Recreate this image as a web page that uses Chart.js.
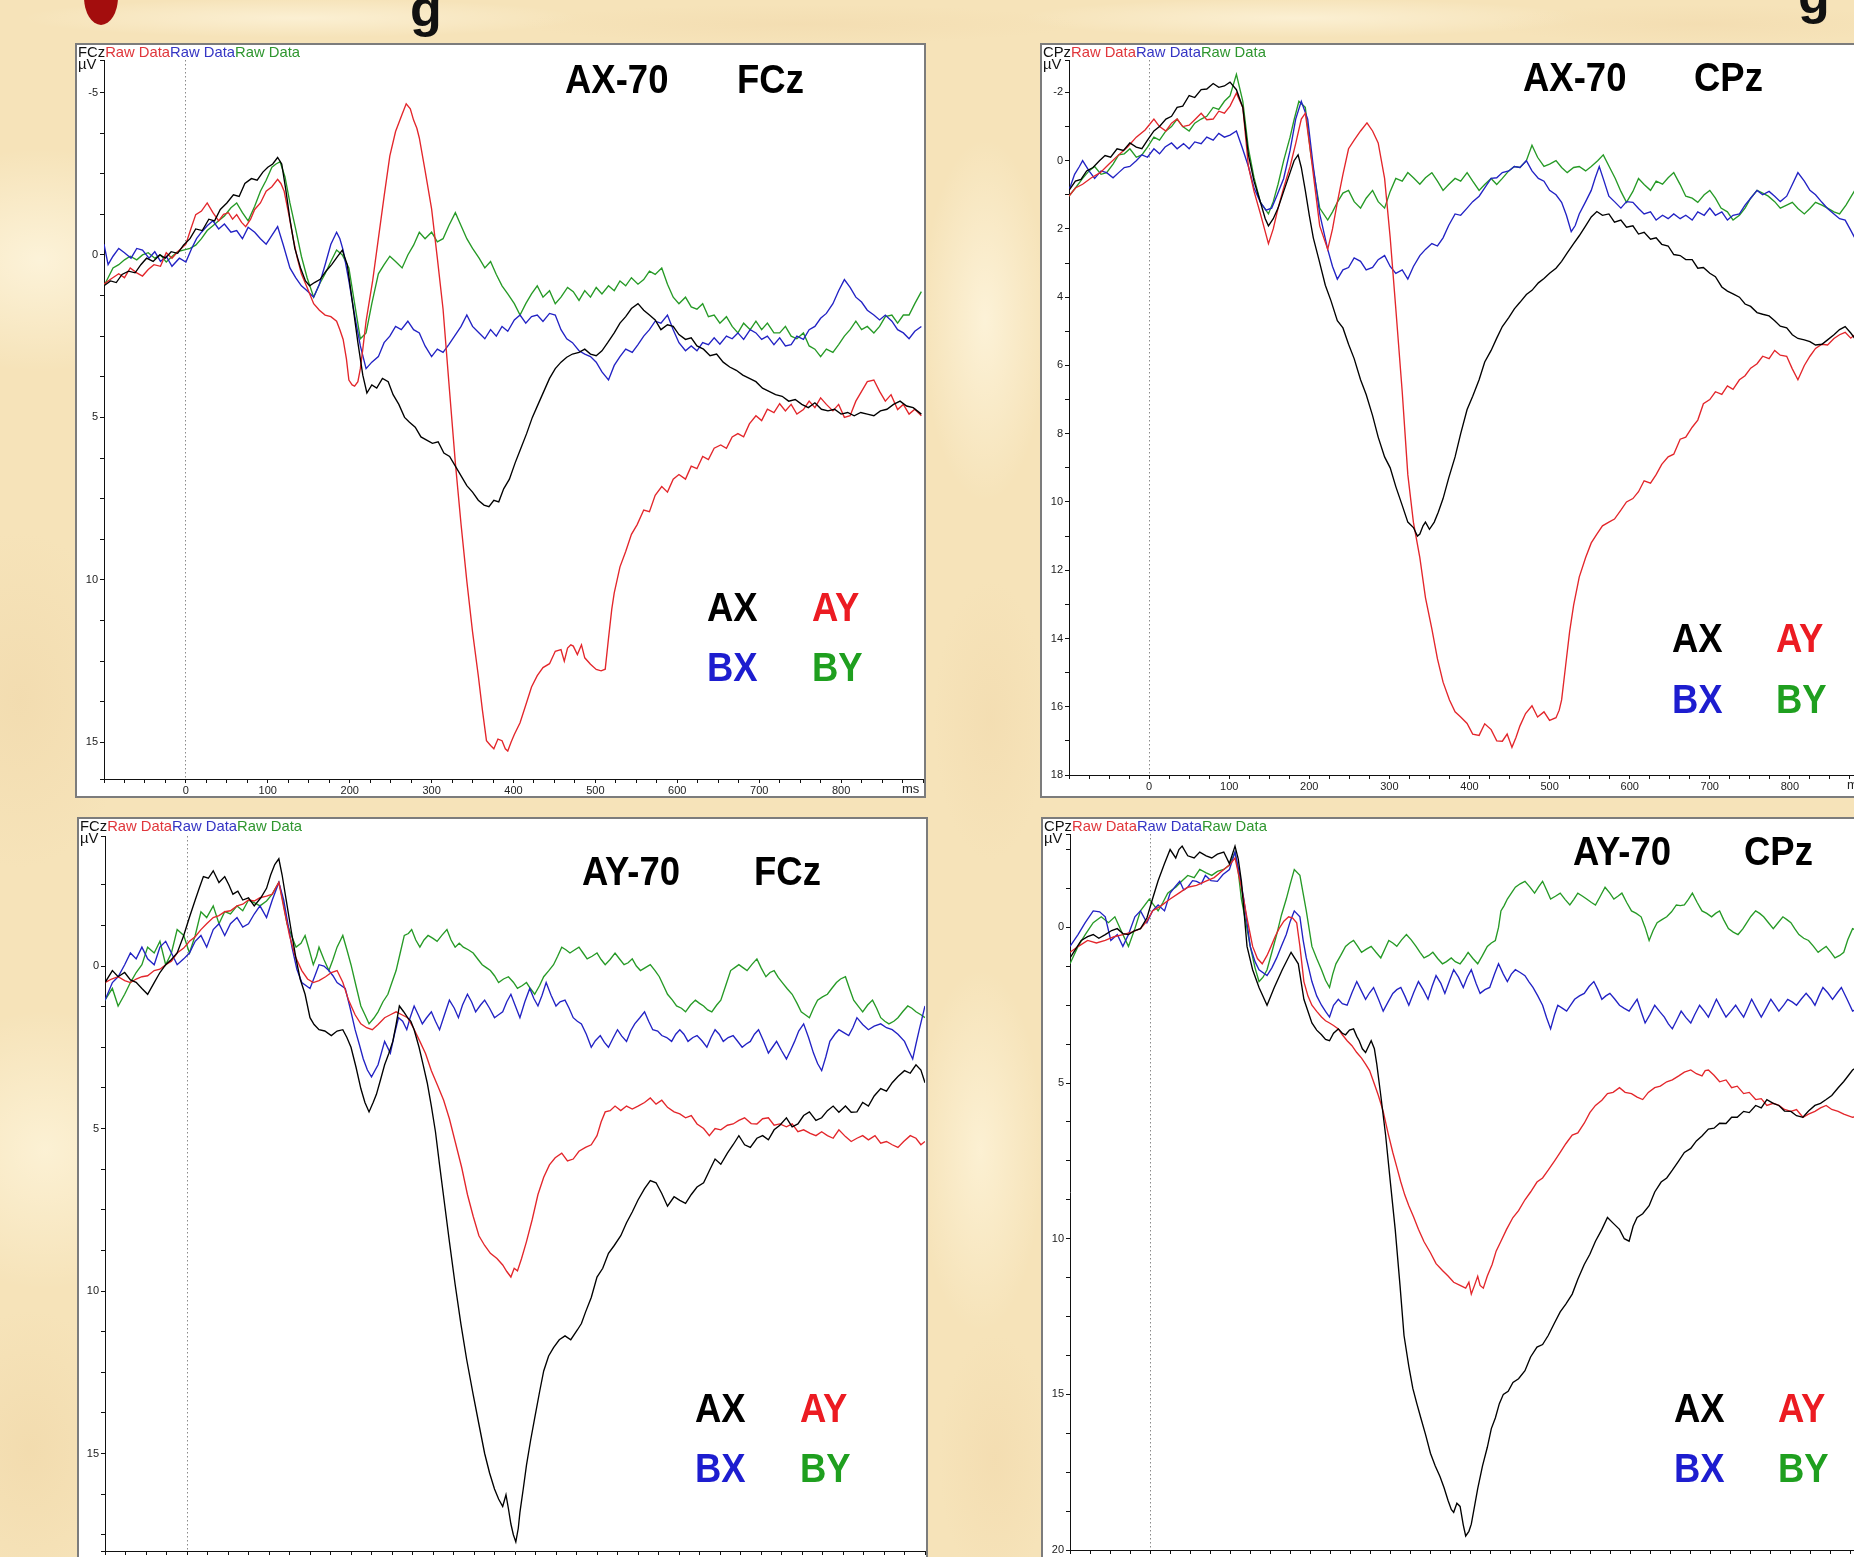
<!DOCTYPE html>
<html>
<head>
<meta charset="utf-8">
<title>ERP waveforms: AX-70 / AY-70 at FCz and CPz</title>
<script src="https://cdn.jsdelivr.net/npm/chart.js@4.4.1/dist/chart.umd.min.js"></script>
<style>
  html, body { margin: 0; padding: 0; width: 1854px; height: 1557px; overflow: hidden; }
  body {
    position: relative;
    font-family: 'Liberation Sans', Arial, sans-serif;
    background-color: #f6e3b9;
    background-image:
      radial-gradient(ellipse 220px 160px at 40px 260px, rgba(255,249,230,0.7), rgba(255,249,230,0) 70%),
      radial-gradient(ellipse 160px 240px at 20px 700px, rgba(238,212,165,0.45), rgba(238,212,165,0) 70%),
      radial-gradient(ellipse 200px 200px at 45px 1150px, rgba(255,248,226,0.65), rgba(255,248,226,0) 70%),
      radial-gradient(ellipse 140px 200px at 30px 1450px, rgba(238,211,162,0.45), rgba(238,211,162,0) 70%),
      radial-gradient(ellipse 90px 260px at 985px 320px, rgba(255,248,228,0.7), rgba(255,248,228,0) 70%),
      radial-gradient(ellipse 80px 200px at 990px 720px, rgba(240,214,168,0.4), rgba(240,214,168,0) 70%),
      radial-gradient(ellipse 90px 260px at 980px 1150px, rgba(255,247,224,0.65), rgba(255,247,224,0) 70%),
      radial-gradient(ellipse 80px 180px at 995px 1460px, rgba(240,213,166,0.4), rgba(240,213,166,0) 70%),
      radial-gradient(ellipse 400px 28px at 300px 18px, rgba(255,248,228,0.6), rgba(255,248,228,0) 70%),
      radial-gradient(ellipse 400px 28px at 800px 24px, rgba(240,214,168,0.4), rgba(240,214,168,0) 70%),
      radial-gradient(ellipse 400px 28px at 1300px 18px, rgba(255,248,228,0.6), rgba(255,248,228,0) 70%),
      radial-gradient(ellipse 300px 28px at 1700px 24px, rgba(240,214,168,0.4), rgba(240,214,168,0) 70%);
  }
  .panel { position: absolute; background: #ffffff; border: 2px solid #7c7c7c; box-sizing: border-box; }
  .panel canvas { position: absolute; left: 0; top: 0; }
  .hdr { position: absolute; left: 1px; top: 0px; font-size: 14.8px; line-height: 15px; white-space: nowrap; color: #111; }
  .hdr .r { color: #e0363b; }
  .hdr .b { color: #3535c4; }
  .hdr .g { color: #2f962f; }
  .unit { position: absolute; left: 1px; top: 12px; font-size: 14.8px; line-height: 15px; color: #111; }
  .big { position: absolute; font-weight: bold; font-size: 41px; line-height: 41px; white-space: nowrap;
         transform: scaleX(0.89); transform-origin: 0 0; z-index: 5; }
  .ms { position: absolute; font-size: 13px; line-height: 14px; color: #222; z-index: 5; }
  .cut { position: absolute; font-weight: bold; font-size: 52px; line-height: 52px; color: #111; }
  .dot { position: absolute; width: 34px; height: 56px; border-radius: 50%; background: #a30d0d; }
</style>
</head>
<body>
<div class="dot" style="left:84px; top:-31px;"></div>
<span class="cut" style="left:410px; top:-18px;">g</span>
<span class="cut" style="left:1798px; top:-31px;">g</span>

<script>
// ---------- sampling / axis definitions ----------
const MS_MIN = -100;
const MS_MAX = 900;
const MS_MINOR_STEP = 25;
const X_TICK_LABELS = [0, 100, 200, 300, 400, 500, 600, 700, 800];

const CONDITIONS = ['AX', 'AY', 'BX', 'BY'];
const CONDITION_COLORS = { AX: '#000000', AY: '#e3262b', BX: '#2222c4', BY: '#269a26' };
const LEGEND_COLORS = { AX: '#000000', AY: '#ec1b22', BX: '#1d1dcf', BY: '#1f9f1f' };

const TL_Y_LABELS = [-5, 0, 5, 10, 15];
const TR_Y_LABELS = [-2, 0, 2, 4, 6, 8, 10, 12, 14, 16, 18];
const BL_Y_LABELS = [0, 5, 10, 15];
const BR_Y_LABELS = [0, 5, 10, 15, 20];

// ---------- AX-70, FCz : [ms, µV] ----------
const TL_AX = [[-100,0.95],[-92,0.8],[-85,0.85],[-78,0.6],[-70,0.5],[-62,0.55],[-55,0.3],[-48,0.1],[-40,0.2],[-32,0],[-25,0.1],[-18,-0.1],[-10,-0.05],[-3,-0.3],[5,-0.5],[12,-0.8],[20,-0.75],[28,-1.1],[35,-1.05],[42,-1.4],[50,-1.6],[58,-1.85],[65,-1.8],[72,-2.2],[80,-2.35],[87,-2.3],[94,-2.55],[100,-2.7],[106,-2.8],[112,-3.0],[117,-2.8],[122,-2.0],[127,-1.1],[133,-0.2],[140,0.4],[146,0.8],[151,0.95],[157,0.85],[164,0.75],[171,0.5],[178,0.3],[185,0.05],[191,-0.15],[197,0.3],[203,1.4],[210,2.7],[216,3.7],[221,4.25],[227,4.0],[233,4.1],[240,3.8],[247,3.9],[253,4.3],[260,4.6],[267,5.0],[273,5.15],[280,5.3],[287,5.6],[294,5.7],[301,5.8],[308,5.75],[315,6.1],[322,6.2],[329,6.5],[336,6.8],[343,7.1],[350,7.3],[357,7.55],[364,7.7],[370,7.75],[376,7.55],[382,7.6],[388,7.2],[395,6.9],[402,6.4],[409,5.95],[416,5.5],[423,5.0],[430,4.6],[437,4.2],[444,3.8],[451,3.5],[458,3.3],[465,3.15],[472,3.05],[480,3.0],[487,2.9],[494,3.05],[501,3.1],[508,2.95],[515,2.7],[523,2.4],[530,2.1],[537,1.9],[544,1.65],[552,1.5],[559,1.7],[566,1.85],[573,2.0],[580,2.3],[588,2.15],[595,2.2],[602,2.45],[610,2.6],[617,2.55],[624,2.8],[632,2.9],[640,3.1],[648,3.05],[656,3.3],[664,3.45],[672,3.55],[680,3.7],[688,3.8],[696,3.9],[704,4.1],[712,4.2],[720,4.3],[728,4.35],[736,4.5],[744,4.45],[752,4.6],[760,4.7],[768,4.55],[776,4.75],[784,4.8],[792,4.75],[800,4.9],[808,4.85],[816,4.95],[824,4.85],[832,4.9],[840,4.95],[848,4.8],[856,4.75],[864,4.6],[872,4.5],[880,4.65],[888,4.7],[898,4.9]];
const TL_AY = [[-100,0.9],[-92,0.75],[-82,0.58],[-75,0.7],[-68,0.4],[-60,0.55],[-53,0.65],[-46,0.45],[-39,0.3],[-31,0.35],[-24,-0.07],[-17,0.1],[-10,-0.1],[0,-0.33],[6,-0.8],[12,-1.24],[19,-1.35],[26,-1.6],[33,-1.3],[40,-1.05],[46,-1.25],[52,-1.3],[57,-1.1],[62,-1.24],[68,-1.0],[73,-0.87],[79,-1.1],[84,-1.4],[91,-1.6],[98,-1.96],[105,-2.1],[112,-2.33],[116,-2.2],[120,-1.96],[126,-1.2],[131,-0.5],[136,0.1],[141,0.58],[148,1.0],[156,1.5],[163,1.7],[170,1.85],[177,1.9],[184,2.04],[188,2.3],[192,2.6],[196,3.2],[199,3.85],[203,4.0],[206,4.04],[210,3.9],[213,3.5],[216,2.9],[220,2.04],[228,0.8],[235,-0.5],[242,-1.8],[249,-3.05],[256,-3.8],[264,-4.33],[269,-4.65],[274,-4.5],[278,-4.15],[282,-3.9],[285,-3.6],[292,-2.6],[300,-1.42],[307,0.1],[314,1.67],[321,3.9],[329,6.4],[336,8.3],[343,10.04],[350,11.6],[357,12.95],[362,14.0],[367,14.95],[372,15.1],[376,15.2],[381,14.9],[386,14.95],[390,15.2],[393,15.27],[397,15.0],[401,14.76],[408,14.4],[415,13.85],[422,13.3],[429,12.95],[436,12.7],[444,12.58],[451,12.2],[458,12.15],[462,12.5],[466,12.1],[470,12.0],[473,12.04],[478,12.3],[483,12.0],[487,12.4],[494,12.6],[501,12.76],[507,12.8],[512,12.75],[516,11.8],[520,10.9],[523,10.4],[530,9.6],[537,9.13],[544,8.6],[551,8.3],[559,7.85],[566,7.9],[573,7.4],[581,7.13],[588,7.3],[595,6.9],[602,6.76],[610,6.9],[617,6.5],[624,6.58],[631,6.2],[638,6.3],[645,5.95],[653,5.85],[660,5.95],[667,5.6],[674,5.5],[681,5.6],[688,5.2],[696,4.95],[703,5.1],[710,4.75],[718,4.85],[725,4.58],[732,4.8],[739,4.6],[746,4.9],[754,4.76],[761,4.5],[768,4.7],[775,4.4],[782,4.6],[790,4.8],[797,4.6],[804,5.0],[811,4.95],[818,4.5],[825,4.2],[832,3.9],[840,3.85],[847,4.2],[854,4.5],[861,4.3],[869,4.76],[876,4.6],[883,4.9],[890,4.75],[898,4.95]];
const TL_BX = [[-100,-0.33],[-95,0.3],[-89,0.04],[-82,-0.2],[-75,-0.07],[-67,0.1],[-60,-0.2],[-53,-0.15],[-45,0.1],[-38,-0.1],[-31,0.2],[-24,0.04],[-17,0.35],[-8,0.1],[0,0.22],[7,-0.2],[13,-0.5],[19,-0.7],[26,-0.9],[33,-1.05],[40,-0.8],[47,-0.95],[55,-0.7],[62,-0.75],[69,-0.5],[76,-0.85],[84,-0.7],[91,-0.5],[98,-0.33],[105,-0.6],[112,-0.87],[119,-0.3],[127,0.4],[134,0.7],[141,0.95],[148,1.1],[156,1.3],[163,0.9],[170,0.3],[177,-0.33],[184,-0.7],[188,-0.5],[192,-0.15],[199,0.8],[206,1.85],[213,2.8],[220,3.5],[227,3.3],[235,3.13],[242,2.7],[249,2.5],[256,2.2],[263,2.3],[271,2.04],[278,2.3],[285,2.4],[292,2.8],[300,3.13],[307,2.9],[314,3.0],[321,2.76],[328,2.5],[336,2.2],[343,1.85],[350,2.2],[358,2.4],[365,2.58],[372,2.3],[379,2.5],[386,2.2],[393,2.35],[401,2.0],[408,1.85],[415,2.1],[422,1.9],[429,1.85],[436,2.05],[444,1.8],[451,1.85],[458,2.3],[465,2.58],[472,2.7],[480,2.95],[487,3.05],[494,3.13],[501,3.3],[508,3.6],[516,3.85],[523,3.4],[530,3.13],[537,2.9],[545,3.0],[552,2.76],[559,2.5],[566,2.3],[573,2.04],[580,2.1],[588,1.85],[595,2.3],[602,2.7],[610,2.95],[617,2.8],[624,2.95],[631,2.7],[638,2.76],[645,2.55],[652,2.75],[660,2.5],[667,2.58],[674,2.4],[681,2.6],[689,2.3],[696,2.4],[703,2.6],[710,2.5],[718,2.76],[725,2.55],[732,2.8],[739,2.76],[746,2.5],[754,2.6],[761,2.3],[768,2.2],[775,1.95],[782,1.8],[790,1.5],[797,1.1],[804,0.76],[811,1.0],[818,1.3],[825,1.45],[832,1.7],[840,1.85],[847,2.0],[854,1.85],[862,2.04],[869,2.3],[876,2.4],[883,2.58],[890,2.35],[898,2.2]];
const TL_BY = [[-100,0.95],[-95,0.7],[-89,0.4],[-82,0.3],[-75,0.15],[-68,0.04],[-60,0.15],[-53,0.0],[-46,-0.07],[-38,0.1],[-31,0.0],[-24,0.22],[-17,0.05],[-10,-0.1],[-3,-0.15],[5,-0.2],[12,-0.3],[19,-0.5],[26,-0.75],[33,-0.9],[40,-1.05],[47,-1.2],[55,-1.45],[62,-1.6],[69,-1.3],[76,-1.05],[84,-1.5],[91,-1.96],[98,-2.3],[105,-2.7],[110,-2.8],[115,-2.87],[121,-2.4],[127,-1.6],[134,-0.8],[141,0.04],[148,0.7],[156,1.3],[163,0.9],[170,0.58],[177,0.2],[184,-0.15],[191,0.0],[199,0.4],[206,1.5],[213,2.58],[220,2.4],[227,1.5],[235,0.58],[242,0.3],[249,0.04],[256,0.2],[264,0.4],[271,0.0],[278,-0.3],[285,-0.7],[292,-0.5],[300,-0.7],[307,-0.4],[314,-0.5],[321,-0.9],[329,-1.3],[336,-0.9],[343,-0.5],[350,-0.2],[358,0.1],[365,0.4],[372,0.2],[379,0.6],[386,0.95],[393,1.2],[401,1.5],[408,1.85],[415,1.5],[422,1.2],[429,0.95],[436,1.3],[444,1.1],[451,1.5],[458,1.3],[466,1.0],[473,1.13],[480,1.4],[487,1.1],[494,1.3],[501,1.0],[508,1.2],[516,0.95],[523,1.1],[530,0.8],[537,0.95],[544,0.7],[552,0.9],[559,0.76],[566,0.5],[573,0.6],[581,0.4],[588,0.9],[595,1.3],[602,1.5],[610,1.3],[617,1.6],[624,1.67],[631,1.5],[638,1.9],[645,1.85],[652,2.1],[660,1.9],[667,2.2],[674,2.4],[681,2.1],[689,2.3],[696,2.04],[703,2.3],[710,2.1],[718,2.4],[725,2.4],[732,2.2],[739,2.5],[746,2.58],[754,2.4],[761,2.8],[768,2.9],[775,3.13],[782,2.9],[790,3.0],[797,2.76],[804,2.5],[811,2.3],[818,2.04],[825,2.3],[832,2.2],[840,2.4],[847,2.2],[854,1.9],[862,1.85],[869,2.1],[876,1.85],[883,1.85],[890,1.5],[898,1.13]];

// ---------- AX-70, CPz ----------
const TR_AX = [[-100,0.87],[-92,0.6],[-85,0.55],[-78,0.3],[-70,0.2],[-62,0.0],[-55,-0.15],[-48,-0.1],[-40,-0.35],[-32,-0.3],[-24,-0.52],[-16,-0.4],[-9,-0.35],[-2,-0.6],[6,-0.87],[13,-1.0],[21,-1.22],[28,-1.3],[35,-1.56],[42,-1.6],[50,-1.91],[57,-1.85],[65,-2.08],[72,-2.1],[80,-2.26],[87,-2.15],[94,-2.19],[101,-2.3],[109,-2.08],[117,-1.56],[124,-0.17],[131,0.6],[139,1.22],[145,1.7],[149,1.91],[155,1.7],[161,1.39],[168,0.9],[176,0.35],[181,0.0],[186,-0.17],[190,0.2],[195,0.87],[200,1.6],[205,2.26],[212,2.9],[220,3.65],[227,4.1],[235,4.69],[242,4.9],[249,5.38],[256,5.8],[264,6.42],[271,6.85],[279,7.47],[286,8.1],[294,8.68],[301,9.0],[308,9.55],[316,10.1],[323,10.59],[330,10.75],[335,11.0],[338,10.94],[342,10.7],[345,10.59],[350,10.8],[356,10.59],[361,10.3],[367,9.9],[374,9.3],[382,8.68],[389,8.0],[397,7.29],[404,6.9],[412,6.42],[419,5.9],[427,5.56],[434,5.2],[441,4.86],[449,4.6],[456,4.34],[463,4.15],[471,3.92],[478,3.8],[486,3.58],[493,3.45],[500,3.3],[508,3.15],[515,2.95],[522,2.7],[530,2.43],[537,2.2],[545,1.91],[552,1.65],[559,1.49],[566,1.6],[574,1.56],[581,1.8],[589,1.74],[596,1.95],[604,1.91],[611,2.15],[618,2.1],[626,2.3],[633,2.26],[640,2.45],[648,2.5],[655,2.75],[663,2.78],[670,2.9],[678,2.9],[685,3.15],[692,3.13],[700,3.3],[707,3.4],[715,3.7],[722,3.82],[729,3.9],[737,4.0],[744,4.2],[751,4.27],[759,4.45],[766,4.5],[774,4.55],[781,4.69],[788,4.85],[796,4.9],[803,5.1],[810,5.21],[818,5.25],[825,5.3],[832,5.4],[840,5.38],[847,5.25],[855,5.1],[862,4.95],[869,4.86],[876,5.05],[881,5.21],[890,5.15],[900,5.1]];
const TR_AY = [[-100,1.04],[-92,0.8],[-83,0.69],[-72,0.5],[-61,0.35],[-50,0.1],[-38,-0.17],[-27,-0.4],[-16,-0.69],[-5,-0.9],[6,-1.22],[13,-1.0],[21,-0.87],[28,-1.1],[35,-1.22],[42,-1.0],[50,-1.04],[57,-1.2],[65,-1.39],[72,-1.2],[80,-1.22],[87,-1.45],[94,-1.39],[101,-1.6],[109,-1.98],[117,-1.56],[124,0.17],[131,0.9],[139,1.56],[149,2.43],[155,2.0],[161,1.39],[168,0.8],[176,0.17],[183,-0.5],[190,-1.22],[195,-1.39],[202,-0.17],[213,1.91],[223,2.6],[229,2.0],[235,1.22],[242,0.4],[249,-0.35],[256,-0.6],[264,-0.87],[272,-1.11],[279,-0.87],[286,-0.52],[294,0.52],[301,2.26],[308,4.34],[316,6.77],[323,9.2],[330,10.6],[338,11.63],[345,12.8],[353,13.72],[360,14.6],[367,15.28],[375,15.8],[382,16.15],[389,16.3],[397,16.49],[404,16.8],[412,16.84],[419,16.5],[427,16.67],[434,17.0],[441,17.01],[447,16.8],[453,17.19],[458,16.9],[463,16.56],[470,16.2],[478,15.97],[485,16.3],[493,16.15],[500,16.4],[508,16.32],[512,16.1],[515,15.8],[520,14.8],[525,13.8],[530,13.02],[537,12.2],[545,11.63],[552,11.2],[559,10.94],[566,10.7],[574,10.59],[581,10.5],[589,10.24],[596,10.0],[604,9.9],[611,9.7],[618,9.38],[626,9.45],[633,9.2],[640,8.9],[648,8.68],[655,8.6],[663,8.16],[670,8.1],[678,7.81],[685,7.6],[692,7.12],[700,7.0],[707,6.77],[715,6.85],[722,6.6],[729,6.7],[737,6.42],[744,6.3],[751,6.08],[759,5.95],[766,5.73],[774,5.8],[781,5.56],[788,5.7],[796,5.73],[803,6.1],[810,6.42],[818,6.0],[825,5.73],[832,5.5],[840,5.38],[847,5.4],[855,5.21],[862,5.1],[869,5.03],[876,5.2],[881,5.1],[900,5.2]];
const TR_BX = [[-100,0.87],[-93,0.4],[-87,0.17],[-83,0],[-75,0.3],[-68,0.52],[-60,0.3],[-53,0.35],[-45,0.5],[-38,0.35],[-31,0.2],[-24,0.17],[-16,0.0],[-9,-0.17],[-2,-0.1],[6,-0.35],[13,-0.2],[20,-0.4],[28,-0.52],[35,-0.35],[43,-0.5],[50,-0.35],[57,-0.55],[65,-0.5],[72,-0.69],[80,-0.6],[87,-0.8],[94,-0.69],[101,-0.75],[109,-0.87],[116,-0.4],[124,0.17],[131,0.8],[139,1.22],[146,1.45],[153,1.39],[160,1.0],[168,0.52],[176,-0.3],[183,-1.22],[190,-1.74],[198,-1.22],[205,0.17],[213,1.56],[223,2.6],[229,3.1],[235,3.47],[242,3.2],[249,3.13],[256,2.85],[264,2.95],[271,3.2],[279,3.13],[286,2.9],[294,2.78],[301,3.1],[308,3.3],[316,3.2],[323,3.47],[330,3.1],[338,2.78],[345,2.6],[353,2.43],[360,2.5],[367,2.26],[374,1.9],[382,1.56],[389,1.6],[397,1.39],[404,1.2],[412,1.04],[419,0.8],[427,0.52],[434,0.5],[441,0.35],[449,0.3],[456,0.17],[463,0.2],[471,0],[478,0.3],[486,0.52],[493,0.6],[500,0.87],[508,1.0],[515,1.22],[521,1.6],[527,2.08],[532,1.9],[537,1.56],[545,1.2],[552,0.87],[557,0.5],[562,0.17],[568,0.6],[574,1.04],[581,1.2],[589,1.39],[596,1.2],[604,1.22],[611,1.4],[618,1.56],[626,1.5],[633,1.74],[641,1.6],[648,1.7],[655,1.56],[663,1.7],[670,1.6],[678,1.74],[685,1.5],[693,1.6],[700,1.39],[707,1.6],[715,1.5],[722,1.74],[729,1.6],[737,1.56],[744,1.3],[751,1.1],[759,0.87],[766,1.0],[774,0.9],[781,1.04],[788,1.2],[796,1.04],[803,0.7],[810,0.35],[818,0.6],[825,0.87],[832,1.0],[840,1.22],[847,1.4],[855,1.56],[862,1.7],[869,1.74],[875,2.0],[881,2.26],[900,2.1]];
const TR_BY = [[-100,1.04],[-92,0.8],[-83,0.52],[-75,0.3],[-68,0.17],[-60,0.4],[-53,0.35],[-45,0.1],[-38,-0.17],[-31,-0.2],[-24,-0.35],[-16,-0.1],[-9,-0.17],[-2,-0.4],[6,-0.69],[13,-0.6],[21,-0.87],[28,-1.0],[35,-1.22],[42,-1.0],[50,-0.87],[57,-1.1],[65,-1.22],[72,-1.3],[80,-1.56],[87,-1.5],[94,-1.74],[101,-1.9],[109,-2.53],[117,-1.74],[124,-0.35],[131,0.5],[139,1.22],[149,1.56],[155,1.2],[161,0.69],[168,0.0],[176,-0.69],[181,-1.2],[187,-1.74],[195,-1.56],[202,-0.17],[213,1.39],[223,1.74],[229,1.5],[235,1.22],[242,0.95],[249,0.87],[256,1.2],[264,1.39],[271,1.1],[279,0.87],[286,1.2],[294,1.39],[301,0.9],[308,0.52],[316,0.6],[323,0.35],[330,0.5],[338,0.69],[345,0.5],[353,0.35],[360,0.6],[367,0.87],[374,0.7],[382,0.52],[389,0.6],[397,0.35],[404,0.6],[412,0.87],[419,0.7],[427,0.52],[434,0.7],[441,0.52],[449,0.3],[456,0.17],[463,0.2],[471,0],[478,-0.45],[485,-0.1],[493,0.17],[500,0.1],[508,0],[515,0.2],[522,0.35],[530,0.2],[537,0.17],[545,0.3],[552,0.17],[560,0.0],[567,-0.17],[575,0.2],[582,0.52],[589,0.9],[596,1.22],[604,0.9],[611,0.52],[618,0.7],[626,0.87],[633,0.6],[641,0.69],[648,0.5],[655,0.35],[663,0.7],[670,1.04],[678,1.1],[685,1.22],[693,1.0],[700,0.87],[707,1.1],[714,1.39],[722,1.5],[729,1.74],[737,1.6],[744,1.39],[751,1.1],[759,0.87],[766,0.95],[773,1.04],[781,1.2],[788,1.39],[796,1.3],[803,1.22],[810,1.4],[818,1.56],[825,1.4],[832,1.22],[840,1.3],[847,1.39],[855,1.5],[862,1.56],[870,1.3],[881,0.87],[900,1.1]];

// ---------- AY-70, FCz ----------
const BL_AX = [[-100,0.51],[-91,0.14],[-84,0.33],[-76,0.2],[-69,0.43],[-62,0.5],[-55,0.69],[-48,0.87],[-40,0.51],[-33,0.2],[-26,-0.04],[-19,-0.2],[-12,-0.4],[-4,-0.94],[3,-1.5],[10,-2.03],[15,-2.4],[20,-2.75],[26,-2.7],[32,-2.93],[39,-2.57],[46,-2.75],[51,-2.5],[56,-2.21],[62,-2.3],[68,-2.03],[75,-2.1],[82,-1.85],[90,-2.1],[97,-2.39],[102,-2.8],[107,-3.12],[112,-3.3],[116,-2.8],[121,-2.03],[127,-1.1],[133,-0.22],[138,0.4],[144,0.87],[150,1.59],[155,1.8],[161,1.96],[168,2.0],[176,2.14],[183,2.0],[190,1.96],[195,2.2],[200,2.5],[206,3.1],[212,3.77],[217,4.2],[222,4.49],[227,4.2],[231,3.95],[236,3.5],[241,3.04],[246,2.7],[251,2.32],[255,1.8],[259,1.23],[264,1.4],[269,1.59],[273,1.7],[277,1.96],[283,2.5],[288,3.04],[293,3.6],[298,4.31],[303,5.1],[308,6.12],[314,7.3],[320,8.48],[327,9.8],[334,11.01],[341,12.1],[349,13.19],[356,14.1],[363,15.0],[369,15.6],[375,16.09],[380,16.4],[385,16.63],[389,16.27],[392,16.7],[395,17.17],[398,17.5],[401,17.72],[404,17.3],[406,16.81],[410,16.1],[414,15.36],[419,14.6],[424,13.91],[430,13.1],[435,12.46],[441,12.0],[447,11.74],[454,11.5],[461,11.38],[468,11.5],[476,11.2],[481,11.0],[486,10.65],[493,10.2],[500,9.57],[507,9.3],[514,8.84],[521,8.6],[529,8.3],[536,7.9],[543,7.57],[550,7.2],[558,6.85],[565,6.6],[572,6.67],[579,7.0],[586,7.39],[594,7.1],[601,7.21],[608,7.3],[615,7.03],[622,6.8],[630,6.67],[637,6.3],[644,5.94],[651,6.1],[659,5.76],[666,5.5],[673,5.22],[680,5.5],[687,5.58],[695,5.3],[702,5.22],[709,5.35],[716,5.04],[723,4.9],[731,4.67],[738,4.95],[745,4.86],[752,4.6],[759,4.49],[767,4.75],[774,4.67],[781,4.45],[788,4.31],[795,4.5],[803,4.31],[810,4.5],[817,4.49],[824,4.2],[831,4.31],[838,4.0],[846,3.77],[853,3.85],[860,3.59],[867,3.4],[875,3.22],[882,3.3],[889,3.04],[895,3.2],[900,3.59]];
const BL_AY = [[-100,0.51],[-92,0.4],[-84,0.33],[-76,0.45],[-69,0.51],[-62,0.4],[-55,0.33],[-48,0.3],[-40,0.14],[-33,0.1],[-26,-0.04],[-19,-0.15],[-12,-0.4],[-4,-0.55],[3,-0.76],[10,-0.9],[17,-1.12],[24,-1.3],[32,-1.49],[39,-1.55],[46,-1.67],[53,-1.7],[61,-1.85],[68,-1.9],[75,-2.03],[82,-2.0],[89,-2.1],[97,-2.15],[104,-2.21],[108,-2.4],[112,-2.57],[118,-1.8],[125,-0.94],[132,-0.3],[140,0.14],[147,0.4],[154,0.51],[161,0.45],[169,0.33],[176,0.2],[183,0.14],[190,0.5],[197,1.05],[205,1.5],[212,1.78],[219,1.9],[226,1.96],[233,1.8],[241,1.59],[248,1.5],[255,1.41],[262,1.5],[269,1.59],[276,1.9],[284,2.32],[291,2.7],[298,3.22],[306,3.7],[313,4.13],[320,4.7],[327,5.4],[335,6.2],[342,7.03],[349,7.7],[356,8.3],[363,8.6],[370,8.84],[378,9.0],[385,9.2],[390,9.4],[395,9.57],[399,9.3],[403,9.38],[408,9.0],[414,8.48],[421,7.8],[428,7.03],[435,6.5],[442,6.12],[449,5.9],[457,5.76],[464,6.0],[471,5.94],[478,5.7],[486,5.58],[493,5.5],[500,5.22],[505,4.8],[510,4.49],[516,4.45],[522,4.31],[529,4.45],[536,4.31],[543,4.4],[550,4.31],[558,4.2],[565,4.06],[572,4.25],[579,4.13],[586,4.35],[594,4.49],[601,4.55],[608,4.67],[615,4.6],[622,4.86],[630,5.0],[637,5.22],[644,5.0],[651,5.04],[659,4.9],[666,4.86],[673,4.75],[680,4.67],[688,4.85],[695,4.86],[702,4.7],[709,4.67],[716,4.9],[723,4.86],[731,4.95],[738,4.86],[745,5.1],[752,5.04],[760,5.15],[767,5.22],[774,5.1],[781,5.22],[788,5.3],[795,5.04],[803,5.25],[810,5.4],[817,5.3],[824,5.22],[831,5.35],[839,5.22],[846,5.45],[853,5.4],[860,5.5],[867,5.58],[874,5.4],[882,5.22],[889,5.3],[895,5.5],[900,5.4]];
const BL_BX = [[-100,1.05],[-91,0.51],[-84,0.33],[-76,-0.04],[-69,-0.4],[-62,-0.22],[-55,-0.58],[-48,-0.22],[-40,-0.04],[-33,-0.58],[-26,-0.76],[-19,-0.4],[-12,-0.04],[-4,-0.22],[3,-0.4],[10,-0.76],[17,-0.94],[24,-0.58],[32,-1.12],[39,-1.3],[46,-0.94],[53,-1.3],[61,-1.49],[68,-1.2],[75,-1.3],[82,-1.6],[89,-1.85],[97,-1.49],[104,-2.03],[112,-2.57],[118,-2.03],[128,-0.58],[134,0.1],[140,0.51],[150,0.69],[156,0.3],[161,-0.04],[167,0.0],[173,0.14],[178,0.3],[183,0.51],[193,0.69],[199,1.3],[205,1.96],[210,2.4],[215,2.86],[220,3.2],[225,3.41],[233,3.04],[241,2.32],[248,2.68],[253,2.1],[258,1.59],[263,1.7],[268,1.96],[272,1.6],[277,1.23],[282,1.5],[287,1.78],[292,1.6],[298,1.41],[303,1.7],[308,1.96],[314,1.5],[320,1.05],[326,1.3],[331,1.59],[336,1.2],[342,0.87],[347,1.1],[352,1.41],[358,1.2],[363,1.05],[369,1.3],[375,1.59],[380,1.5],[385,1.41],[390,1.1],[395,0.87],[400,1.2],[406,1.59],[412,1.1],[418,0.69],[423,1.0],[428,1.23],[433,0.9],[438,0.51],[444,0.9],[450,1.23],[455,1.1],[461,1.05],[466,1.3],[471,1.59],[476,1.7],[481,1.78],[487,2.1],[493,2.5],[498,2.3],[504,2.14],[509,2.35],[514,2.5],[520,2.2],[525,1.96],[530,2.15],[536,2.32],[541,2.0],[546,1.78],[552,1.6],[558,1.41],[563,1.7],[568,1.96],[574,2.0],[579,2.14],[585,2.2],[591,2.32],[596,2.1],[601,1.96],[606,2.1],[611,2.32],[617,2.2],[622,2.14],[628,2.3],[634,2.5],[639,2.2],[644,1.96],[649,2.1],[654,2.32],[660,2.2],[666,2.14],[671,2.3],[677,2.5],[682,2.4],[687,2.32],[692,2.1],[697,1.96],[703,2.3],[709,2.68],[714,2.5],[719,2.32],[725,2.6],[731,2.86],[736,2.6],[741,2.32],[746,2.0],[752,1.78],[758,2.2],[764,2.68],[769,3.0],[774,3.22],[779,2.8],[784,2.32],[790,2.1],[795,1.96],[801,2.05],[807,2.14],[812,1.9],[817,1.59],[824,1.8],[831,1.96],[838,1.85],[846,1.78],[853,1.9],[860,1.96],[867,2.1],[875,2.32],[880,2.6],[885,2.86],[889,2.4],[893,1.96],[900,1.23]];
const BL_BY = [[-100,1.05],[-91,0.69],[-84,1.23],[-76,0.87],[-69,0.51],[-62,0.2],[-55,-0.04],[-48,-0.58],[-40,-0.4],[-33,-0.76],[-26,-0.04],[-19,-0.4],[-12,-1.12],[-4,-0.94],[3,-0.4],[10,-0.94],[17,-1.67],[24,-1.49],[32,-1.85],[39,-1.3],[46,-1.67],[53,-1.6],[61,-1.85],[68,-1.7],[75,-2.03],[82,-1.95],[89,-1.85],[97,-2.0],[104,-2.21],[112,-2.57],[117,-2.0],[122,-1.3],[128,-0.9],[133,-0.58],[139,-0.7],[144,-0.94],[149,-0.5],[154,-0.04],[158,-0.3],[161,-0.58],[167,-0.2],[173,0.14],[178,-0.2],[183,-0.58],[190,-0.94],[195,-0.5],[200,-0.04],[206,0.6],[212,1.23],[217,1.5],[222,1.78],[228,1.6],[233,1.41],[239,1.1],[245,0.87],[250,0.5],[255,0.14],[260,-0.4],[265,-0.94],[270,-1.0],[274,-1.12],[279,-0.8],[284,-0.58],[289,-0.8],[294,-0.94],[300,-0.85],[305,-0.76],[311,-0.95],[317,-1.12],[322,-0.8],[327,-0.58],[332,-0.7],[337,-0.58],[343,-0.5],[349,-0.4],[355,-0.2],[360,-0.04],[365,0.05],[370,0.14],[375,0.3],[380,0.51],[386,0.4],[392,0.33],[398,0.5],[403,0.69],[409,0.6],[414,0.51],[419,0.7],[424,0.87],[430,0.6],[435,0.33],[441,0.15],[447,-0.04],[452,-0.3],[457,-0.58],[462,-0.5],[467,-0.4],[473,-0.5],[478,-0.58],[483,-0.4],[488,-0.22],[494,-0.3],[500,-0.4],[505,-0.2],[510,-0.04],[516,-0.2],[522,-0.4],[528,-0.2],[533,-0.04],[538,-0.1],[543,-0.22],[548,0.0],[553,0.14],[559,0.05],[565,-0.04],[571,0.15],[576,0.33],[581,0.6],[586,0.87],[592,1.05],[597,1.23],[603,1.3],[608,1.41],[614,1.2],[620,1.05],[625,1.15],[630,1.23],[635,1.35],[640,1.41],[646,1.2],[651,1.05],[657,0.6],[663,0.14],[668,0.05],[673,-0.04],[678,0.05],[683,0.14],[689,-0.05],[695,-0.22],[700,0.05],[706,0.33],[711,0.2],[716,0.14],[721,0.35],[726,0.51],[732,0.7],[738,0.87],[744,1.15],[749,1.41],[754,1.5],[759,1.59],[764,1.3],[769,1.05],[775,0.95],[781,0.87],[786,0.7],[792,0.51],[797,0.4],[803,0.33],[808,0.7],[813,1.05],[819,1.25],[824,1.41],[830,1.2],[836,1.05],[841,1.3],[846,1.59],[851,1.7],[856,1.78],[862,1.7],[867,1.59],[873,1.4],[879,1.23],[884,1.3],[889,1.41],[895,1.5],[900,1.59]];

// ---------- AY-70, CPz ----------
const BR_AX = [[-100,0.98],[-93,0.7],[-86,0.42],[-78,0.3],[-71,0.23],[-64,0.35],[-56,0.23],[-48,0.1],[-41,0.04],[-34,0.2],[-27,0.23],[-19,0.1],[-12,0.04],[-4,-0.3],[3,-0.91],[10,-1.5],[18,-2.05],[25,-2.5],[32,-2.23],[36,-2.5],[40,-2.61],[47,-2.3],[55,-2.23],[62,-2.42],[70,-2.3],[77,-2.23],[84,-2.35],[92,-2.42],[99,-2.05],[106,-2.61],[110,-2.2],[114,-1.48],[121,0.61],[128,1.36],[136,1.93],[146,2.5],[155,1.93],[165,1.36],[176,0.8],[185,1.17],[192,2.31],[202,3.07],[208,3.3],[214,3.45],[219,3.6],[224,3.64],[229,3.4],[235,3.26],[240,3.4],[244,3.45],[249,3.3],[254,3.26],[258,3.5],[261,3.64],[265,3.9],[269,4.02],[273,3.8],[276,3.64],[280,3.9],[283,4.39],[288,5.4],[294,6.67],[300,8.2],[306,9.7],[312,11.5],[317,13.11],[323,14.1],[328,14.81],[333,15.3],[338,15.76],[344,16.3],[350,16.89],[356,17.3],[362,17.65],[367,18.0],[372,18.41],[376,18.7],[379,18.79],[383,18.5],[387,18.6],[391,19.2],[394,19.55],[398,19.4],[401,19.17],[405,18.6],[409,18.03],[415,17.3],[421,16.7],[426,16.1],[431,15.76],[436,15.3],[441,15.0],[447,14.9],[453,14.62],[460,14.5],[468,14.24],[475,13.8],[483,13.48],[490,13.4],[497,13.11],[505,12.7],[512,12.35],[519,12.1],[527,11.78],[534,11.3],[542,10.83],[549,10.5],[556,10.08],[564,9.7],[571,9.32],[578,9.5],[586,9.7],[592,10.0],[598,10.08],[603,9.6],[608,9.32],[615,9.2],[623,8.94],[630,8.5],[638,8.18],[645,8.05],[652,7.8],[660,7.5],[667,7.23],[675,7.1],[682,6.86],[689,6.7],[697,6.48],[704,6.45],[711,6.29],[719,6.3],[726,6.1],[733,6.1],[741,5.91],[748,5.95],[756,5.72],[763,5.8],[770,5.53],[778,5.65],[785,5.72],[792,5.9],[800,5.91],[807,6.05],[815,6.1],[822,5.9],[830,5.72],[837,5.65],[844,5.53],[851,5.4],[859,5.15],[866,4.95],[872,4.75],[877,4.58],[888,4.4],[900,4.3]];
const BR_AY = [[-100,0.8],[-89,0.6],[-78,0.42],[-67,0.5],[-56,0.42],[-45,0.3],[-34,0.23],[-23,0.15],[-12,0.04],[-4,-0.2],[3,-0.53],[14,-0.7],[25,-0.91],[36,-1.1],[47,-1.29],[58,-1.35],[69,-1.48],[80,-1.6],[92,-1.86],[99,-2.0],[106,-2.23],[114,-1.29],[121,-0.3],[128,0.61],[134,1.0],[140,1.17],[146,0.9],[151,0.61],[156,0.3],[161,0.04],[167,-0.2],[173,-0.34],[178,-0.3],[183,-0.15],[187,0.6],[192,1.74],[197,2.2],[202,2.5],[208,2.7],[214,2.88],[219,3.0],[224,3.07],[229,3.15],[235,3.26],[240,3.45],[246,3.64],[252,3.8],[258,4.02],[264,4.2],[269,4.39],[274,4.6],[279,4.96],[285,5.4],[291,5.91],[297,6.6],[303,7.23],[308,7.7],[313,8.18],[318,8.6],[323,8.94],[329,9.3],[335,9.7],[342,10.1],[350,10.45],[357,10.8],[365,11.02],[372,11.2],[379,11.4],[387,11.5],[394,11.59],[398,11.4],[401,11.78],[405,11.5],[409,11.21],[412,11.5],[416,11.59],[421,11.2],[427,10.83],[432,10.4],[438,10.08],[445,9.7],[453,9.32],[460,9.1],[468,8.75],[475,8.5],[483,8.18],[490,8.05],[497,7.8],[505,7.5],[512,7.23],[519,6.95],[527,6.67],[534,6.6],[542,6.29],[549,5.95],[556,5.72],[564,5.55],[571,5.34],[578,5.3],[586,5.15],[593,5.3],[601,5.34],[608,5.45],[615,5.53],[622,5.3],[630,5.15],[637,5.1],[645,4.96],[652,4.9],[660,4.77],[667,4.65],[675,4.58],[682,4.7],[689,4.77],[693,4.6],[697,4.58],[704,4.75],[711,4.96],[719,4.9],[726,5.15],[733,5.1],[741,5.34],[748,5.3],[756,5.53],[763,5.5],[770,5.72],[778,5.65],[785,5.72],[792,5.85],[800,5.91],[807,5.85],[815,6.1],[822,6.0],[830,5.91],[837,5.8],[844,5.72],[851,5.85],[859,5.91],[866,6.0],[877,6.1],[900,6.0]];
const BR_BX = [[-100,0.61],[-90,0.23],[-81,-0.15],[-71,-0.53],[-63,-0.5],[-56,-0.34],[-49,0.42],[-41,0.23],[-34,0.61],[-27,0.23],[-19,-0.34],[-12,-0.53],[-4,-0.15],[3,-0.53],[10,-0.72],[18,-0.53],[25,-1.1],[31,-1.3],[37,-1.48],[42,-1.2],[47,-1.29],[53,-1.5],[58,-1.48],[64,-1.4],[69,-1.67],[76,-1.5],[84,-1.48],[91,-1.7],[99,-1.86],[106,-2.42],[111,-1.8],[117,-0.91],[125,0.61],[131,1.1],[136,1.36],[146,1.55],[152,1.3],[158,0.98],[164,0.6],[170,0.23],[175,-0.2],[180,-0.53],[187,-0.34],[191,0.4],[195,0.98],[202,1.74],[208,2.2],[214,2.5],[219,2.7],[224,2.88],[229,2.5],[235,2.31],[240,2.45],[246,2.5],[252,2.1],[258,1.74],[263,2.0],[269,2.31],[274,2.1],[279,1.93],[285,2.3],[291,2.69],[297,2.4],[303,2.12],[308,2.0],[313,1.93],[318,2.2],[323,2.5],[329,2.1],[335,1.74],[341,2.0],[347,2.31],[352,1.9],[357,1.55],[363,1.8],[368,2.12],[374,1.7],[379,1.36],[385,1.6],[391,1.93],[396,1.6],[401,1.36],[407,1.8],[412,2.12],[418,2.0],[424,1.93],[430,1.5],[435,1.17],[441,1.5],[446,1.74],[451,1.5],[456,1.36],[462,1.45],[468,1.55],[473,1.75],[478,1.93],[484,2.2],[490,2.5],[495,2.9],[500,3.26],[505,2.8],[509,2.5],[515,2.6],[520,2.69],[525,2.5],[530,2.31],[536,2.2],[542,2.12],[548,1.9],[554,1.74],[559,2.0],[564,2.31],[569,2.2],[574,2.12],[580,2.3],[586,2.5],[592,2.6],[598,2.69],[603,2.5],[608,2.31],[613,2.7],[618,3.07],[624,2.8],[630,2.5],[636,2.7],[642,2.88],[647,3.1],[652,3.26],[658,2.95],[663,2.69],[669,2.9],[675,3.07],[680,2.8],[686,2.5],[692,2.7],[697,2.88],[702,2.6],[707,2.31],[713,2.6],[719,2.88],[725,2.7],[731,2.5],[736,2.7],[741,2.88],[746,2.6],[751,2.31],[757,2.6],[763,2.88],[769,2.6],[775,2.31],[780,2.5],[785,2.69],[791,2.5],[796,2.31],[802,2.4],[807,2.5],[813,2.3],[819,2.12],[825,2.3],[830,2.5],[835,2.2],[840,1.93],[846,2.1],[852,2.31],[858,2.1],[863,1.93],[870,2.3],[877,2.69],[900,2.4]];
const BR_BY = [[-100,1.17],[-90,0.61],[-81,0.23],[-71,-0.15],[-61,-0.34],[-52,-0.15],[-44,-0.34],[-34,0.23],[-27,0.61],[-19,0.04],[-12,-0.53],[-1,-0.91],[10,-0.53],[16,-0.8],[22,-1.1],[27,-1.2],[32,-1.29],[40,-1.5],[47,-1.67],[55,-1.6],[62,-1.86],[70,-1.75],[77,-1.67],[84,-1.8],[92,-1.86],[99,-2.0],[106,-2.42],[110,-1.8],[114,-0.91],[120,-0.1],[125,0.61],[131,1.3],[136,1.74],[141,1.6],[146,1.36],[152,0.8],[158,0.23],[164,-0.4],[170,-0.91],[175,-1.4],[180,-1.86],[187,-1.67],[191,-1.1],[195,-0.53],[202,0.61],[208,1.0],[214,1.36],[219,1.7],[224,1.93],[228,1.5],[232,1.17],[238,0.9],[244,0.61],[249,0.5],[254,0.42],[259,0.6],[264,0.8],[270,0.7],[276,0.61],[282,0.8],[288,0.98],[293,0.7],[298,0.42],[303,0.5],[308,0.61],[314,0.4],[320,0.23],[326,0.4],[332,0.61],[337,0.8],[342,0.98],[348,0.9],[353,0.8],[359,1.0],[365,1.17],[370,1.1],[376,0.98],[381,1.1],[387,1.17],[392,1.0],[397,0.8],[403,1.0],[409,1.17],[415,0.9],[421,0.61],[426,0.5],[431,0.42],[435,0.0],[438,-0.53],[442,-0.7],[446,-0.91],[451,-1.1],[456,-1.29],[462,-1.4],[468,-1.48],[474,-1.3],[480,-1.1],[485,-1.3],[490,-1.48],[495,-1.2],[500,-0.91],[506,-1.0],[512,-1.1],[518,-0.9],[524,-0.72],[529,-0.9],[534,-1.1],[540,-1.0],[545,-0.91],[551,-0.8],[556,-0.72],[562,-1.0],[568,-1.29],[574,-1.1],[579,-0.91],[584,-1.0],[589,-1.1],[595,-0.8],[601,-0.53],[607,-0.45],[613,-0.34],[618,0.0],[623,0.42],[628,0.1],[633,-0.15],[639,-0.25],[645,-0.34],[651,-0.5],[657,-0.72],[662,-0.7],[667,-0.72],[672,-0.9],[677,-1.1],[683,-0.8],[689,-0.53],[695,-0.45],[701,-0.34],[706,-0.45],[711,-0.53],[716,-0.25],[722,0.04],[728,0.15],[734,0.23],[740,0.05],[745,-0.15],[750,-0.35],[756,-0.53],[761,-0.45],[766,-0.34],[772,-0.15],[778,0.04],[784,-0.15],[790,-0.34],[795,-0.25],[800,-0.15],[805,0.05],[810,0.23],[816,0.35],[822,0.42],[828,0.6],[834,0.8],[839,0.7],[844,0.61],[850,0.8],[855,0.98],[861,0.9],[866,0.8],[871,0.4],[877,0.04],[900,0.3]];

// ---------- panel definitions ----------
const PANELS = [
  { cue: 'AX-70', site: 'FCz', series: [TL_AX, TL_AY, TL_BX, TL_BY], yMin: -6,    yMax: 16.13, yStep: 1.25, yLabels: TL_Y_LABELS },
  { cue: 'AX-70', site: 'CPz', series: [TR_AX, TR_AY, TR_BX, TR_BY], yMin: -2.95, yMax: 18,    yStep: 1,    yLabels: TR_Y_LABELS },
  { cue: 'AY-70', site: 'FCz', series: [BL_AX, BL_AY, BL_BX, BL_BY], yMin: -4,    yMax: 18,    yStep: 1.25, yLabels: BL_Y_LABELS },
  { cue: 'AY-70', site: 'CPz', series: [BR_AX, BR_AY, BR_BX, BR_BY], yMin: -3,    yMax: 20,    yStep: 1.25, yLabels: BR_Y_LABELS }
];

// page placement of each panel: outer box, plot area edges, title row, legend grid
const PLACEMENT = [
  { box: [75, 43, 851, 755],   area: [104, 60, 924, 779],    title: [565, 737, 79],    legend: [707, 812, 607, 667],    ms: [902, 782] },
  { box: [1040, 43, 840, 755], area: [1069, 60, 1870, 775],  title: [1523, 1694, 77],  legend: [1672, 1776, 638, 699],  ms: [1847, 778] },
  { box: [77, 817, 851, 760],  area: [105, 836, 926, 1551],  title: [582, 754, 871],   legend: [695, 800, 1408, 1468],  ms: null },
  { box: [1041, 817, 840, 760], area: [1070, 834, 1871, 1550], title: [1573, 1744, 851], legend: [1674, 1778, 1408, 1468], ms: null }
];

Chart.defaults.font.family = "'Liberation Sans', Arial, sans-serif";
Chart.defaults.color = '#222';

function addText(parent, cls, text, left, top, color) {
  const el = document.createElement('span');
  el.className = cls;
  el.textContent = text;
  el.style.left = left + 'px';
  el.style.top = top + 'px';
  if (color) el.style.color = color;
  parent.appendChild(el);
  return el;
}

function isLabelled(v, list) {
  return list.some(l => Math.abs(l - v) < 1e-6);
}

PANELS.forEach((panel, idx) => {
  const place = PLACEMENT[idx];
  const [bx, by, bw, bh] = place.box;
  const border = 2;
  const innerLeft = bx + border, innerTop = by + border;
  const cw = bw - 2 * border, ch = bh - 2 * border;

  const box = document.createElement('div');
  box.className = 'panel';
  box.style.left = bx + 'px';
  box.style.top = by + 'px';
  box.style.width = bw + 'px';
  box.style.height = bh + 'px';
  document.body.appendChild(box);

  const canvas = document.createElement('canvas');
  canvas.width = cw;
  canvas.height = ch;
  canvas.style.width = cw + 'px';
  canvas.style.height = ch + 'px';
  box.appendChild(canvas);

  // channel / dataset header and unit
  const hdr = document.createElement('div');
  hdr.className = 'hdr';
  hdr.innerHTML = panel.site + '<span class="r">Raw Data</span><span class="b">Raw Data</span><span class="g">Raw Data</span>';
  box.appendChild(hdr);
  const unit = document.createElement('div');
  unit.className = 'unit';
  unit.textContent = 'µV';
  box.appendChild(unit);

  const [aL, aT, aR, aB] = place.area;
  const yAxisWidth = aL - innerLeft;
  const padTop = aT - innerTop;
  const padRight = innerLeft + cw - aR;
  const xAxisHeight = innerTop + ch - aB;

  new Chart(canvas, {
    type: 'line',
    data: {
      datasets: CONDITIONS.map((c, i) => ({
        label: c,
        data: panel.series[i].map(([t, v]) => ({ x: t, y: v })),
        borderColor: CONDITION_COLORS[c],
        borderWidth: 1.35,
        pointRadius: 0,
        tension: 0,
        fill: false
      }))
    },
    options: {
      responsive: false,
      animation: false,
      devicePixelRatio: 1,
      events: [],
      layout: { padding: { left: 0, top: padTop, right: padRight, bottom: 0 } },
      plugins: { legend: { display: false }, tooltip: { enabled: false }, title: { display: false } },
      scales: {
        x: {
          type: 'linear',
          min: MS_MIN,
          max: MS_MAX,
          ticks: {
            stepSize: MS_MINOR_STEP,
            autoSkip: false,
            maxRotation: 0,
            includeBounds: false,
            padding: 1,
            font: { size: 11 },
            color: '#222',
            callback: v => (isLabelled(v, X_TICK_LABELS) ? String(v) : '')
          },
          grid: {
            drawOnChartArea: true,
            drawTicks: true,
            tickLength: 4,
            tickColor: '#111',
            lineWidth: 1,
            color: ctx => (ctx.tick && ctx.tick.value === 0 ? '#8a8a8a' : 'rgba(0,0,0,0)')
          },
          border: { display: true, color: '#111', width: 1, dash: [1.5, 2.5] },
          afterFit: s => { s.height = xAxisHeight; }
        },
        y: {
          type: 'linear',
          reverse: true,
          min: panel.yMin,
          max: panel.yMax,
          ticks: {
            stepSize: panel.yStep,
            autoSkip: false,
            includeBounds: true,
            padding: 2,
            font: { size: 11 },
            color: '#222',
            callback: v => (isLabelled(v, panel.yLabels) ? String(v) : '')
          },
          grid: { drawOnChartArea: false, drawTicks: true, tickLength: 4, tickColor: '#111' },
          border: { display: true, color: '#111', width: 1 },
          afterFit: s => { s.width = yAxisWidth; }
        }
      }
    }
  });

  // condition / site title
  const [tx1, tx2, tcy] = place.title;
  addText(document.body, 'big', panel.cue, tx1, tcy - 20, '#000');
  addText(document.body, 'big', panel.site, tx2, tcy - 20, '#000');

  // condition key
  const [lx1, lx2, ly1, ly2] = place.legend;
  addText(document.body, 'big', 'AX', lx1, ly1 - 20, LEGEND_COLORS.AX);
  addText(document.body, 'big', 'AY', lx2, ly1 - 20, LEGEND_COLORS.AY);
  addText(document.body, 'big', 'BX', lx1, ly2 - 20, LEGEND_COLORS.BX);
  addText(document.body, 'big', 'BY', lx2, ly2 - 20, LEGEND_COLORS.BY);

  if (place.ms) addText(document.body, 'ms', 'ms', place.ms[0], place.ms[1]);
});
</script>
</body>
</html>
